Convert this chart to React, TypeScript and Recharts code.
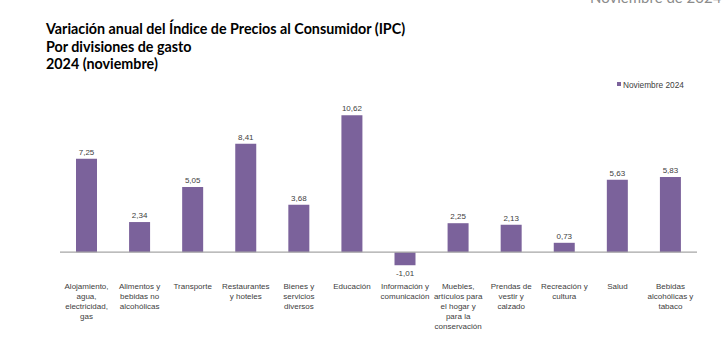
import { BarChart, Bar, XAxis, YAxis, ReferenceLine, LabelList } from "recharts";

const categories = [
  ["Alojamiento,", "agua,", "electricidad,", "gas"],
  ["Alimentos y", "bebidas no", "alcohólicas"],
  ["Transporte"],
  ["Restaurantes", "y hoteles"],
  ["Bienes y", "servicios", "diversos"],
  ["Educación"],
  ["Información y", "comunicación"],
  ["Muebles,", "artículos para", "el hogar y", "para la", "conservación"],
  ["Prendas de", "vestir y", "calzado"],
  ["Recreación y", "cultura"],
  ["Salud"],
  ["Bebidas", "alcohólicas y", "tabaco"],
];
const values = [7.25, 2.34, 5.05, 8.41, 3.68, 10.62, -1.01, 2.25, 2.13, 0.73, 5.63, 5.83];
const titleLines = [
  "Variación anual del Índice de Precios al Consumidor (IPC)",
  "Por divisiones de gasto",
  "2024 (noviembre)",
];
const seriesName = "Noviembre 2024";

const data = categories.map((lines, i) => ({ name: lines.join(" "), lines, value: values[i] }));

const BAR = "#7b629b";
const TEXT = "#404040";
const FONT = "Liberation Sans, Arial, sans-serif";
const fmt = (v: number) => v.toFixed(2).replace(".", ",");

const CategoryTick = (props: any) => {
  const { x, y, index } = props;
  const lines = categories[index] ?? [];
  return (
    <text x={x} y={y} textAnchor="middle" fill={TEXT} fontSize={8} fontFamily={FONT}>
      {lines.map((l, i) => (
        <tspan key={i} x={x} y={y + 9 + i * 10}>{l}</tspan>
      ))}
    </text>
  );
};

const ValueLabel = (props: any) => {
  const { x, y, width, height, value } = props;
  const top = Math.min(y, y + height);
  const bottom = Math.max(y, y + height);
  const cx = x + width / 2;
  const ty = value >= 0 ? top - 4 : bottom + 11;
  return (
    <text x={cx} y={ty} textAnchor="middle" fill={TEXT} fontSize={8} fontFamily={FONT}>
      {fmt(value)}
    </text>
  );
};

export default function App() {
  return (
    <div style={{ position: "absolute", left: 0, top: 0, width: 728, height: 358, background: "#fff" }}>
      <svg width={728} height={358} style={{ position: "absolute", left: 0, top: 0 }}>
        <text x={590} y={3} fill="#8c8c8c" fontSize={15} fontFamily="Lato, sans-serif">Noviembre de 2024</text>
        {titleLines.map((t, i) => (
          <text key={i} x={46} y={34 + i * 17.5} fill="#000" fontSize={14.3} fontWeight={700} fontFamily="Lato, sans-serif">{t}</text>
        ))}
        <rect x={617} y={82} width={4} height={4} fill={BAR} />
        <text x={623} y={87.5} fill={TEXT} fontSize={8.3} fontFamily={FONT}>{seriesName}</text>
      </svg>
      <div style={{ position: "absolute", left: 0, top: 0 }}>
        <BarChart width={728} height={358} data={data} margin={{ top: 97.5, right: 31, bottom: 50, left: 60 }}>
          <XAxis dataKey="name" height={30} axisLine={false} tickLine={false} tickSize={0} interval={0} tick={<CategoryTick />} />
          <YAxis hide domain={[-2, 12]} />
          <ReferenceLine y={0} stroke="#a6a6a6" strokeWidth={1.3} />
          <Bar dataKey="value" name={seriesName} fill={BAR} barSize={21} isAnimationActive={false}>
            <LabelList dataKey="value" content={<ValueLabel />} />
          </Bar>
        </BarChart>
      </div>
    </div>
  );
}
